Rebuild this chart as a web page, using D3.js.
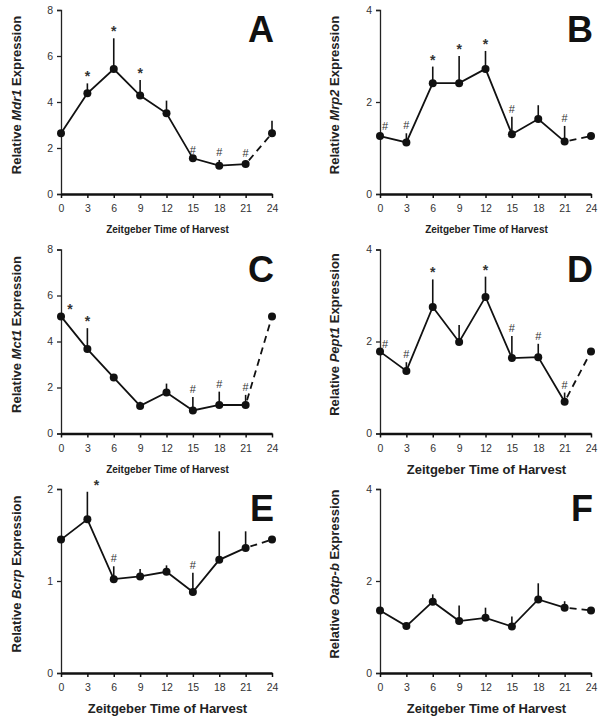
<!DOCTYPE html>
<html>
<head>
<meta charset="utf-8">
<script src="https://cdn.jsdelivr.net/npm/d3@7"></script>
<style>
  body { margin: 0; background: #fff; }
  text { font-family: "Liberation Sans", Arial, sans-serif; }
</style>
</head>
<body>
<svg id="chart" width="604" height="725"></svg>
<script>
// Zeitgeber times (hours)
const times = [0, 3, 6, 9, 12, 15, 18, 21, 24];

// Mean expression per panel
const mdr1   = [2.64, 4.38, 5.43, 4.28, 3.51, 1.55, 1.23, 1.30, 2.64];
const mrp2   = [1.26, 1.12, 2.41, 2.41, 2.72, 1.30, 1.63, 1.14, 1.26];
const mct1   = [5.09, 3.67, 2.43, 1.20, 1.78, 1.00, 1.24, 1.24, 5.09];
const pept1  = [1.78, 1.36, 2.75, 1.99, 2.97, 1.64, 1.66, 0.69, 1.78];
const bcrp   = [1.45, 1.67, 1.02, 1.05, 1.10, 0.88, 1.23, 1.36, 1.45];
const oatpb  = [1.36, 1.02, 1.55, 1.13, 1.20, 1.01, 1.60, 1.42, 1.36];

// Upper error (SEM) per point
const mdr1Err  = [0, 0.43, 1.34, 0.68, 0.55, 0, 0.25, 0.15, 0.55];
const mrp2Err  = [0.05, 0.20, 0.36, 0.59, 0.39, 0.38, 0.30, 0.34, 0];
const mct1Err  = [0, 0.91, 0.15, 0.18, 0.39, 0.59, 0.58, 0.44, 0];
const pept1Err = [0, 0.19, 0.60, 0.37, 0.44, 0.48, 0.29, 0.20, 0];
const bcrpErr  = [0, 0.30, 0.14, 0.08, 0.07, 0.21, 0.31, 0.18, 0];
const oatpbErr = [0, 0, 0.16, 0.34, 0.22, 0.22, 0.35, 0.14, 0];

// Significance markers
const mdr1Sig  = ["", "*", "*", "*", "", "#", "#", "#", ""];
const mrp2Sig  = ["#", "#", "*", "*", "*", "#", "", "#", ""];
const mct1Sig  = ["*", "*", "", "", "", "#", "#", "#", ""];
const pept1Sig = ["#", "#", "*", "", "*", "#", "#", "#", ""];
const bcrpSig  = ["", "*", "#", "", "", "#", "", "", ""];
const oatpbSig = ["", "", "", "", "", "", "", "", ""];

const yMaxes = [8, 4, 8, 4, 2, 4];
const yTickSets = [[0, 2, 4, 6, 8], [0, 2, 4], [0, 2, 4, 6, 8], [0, 2, 4], [0, 1, 2], [0, 2, 4]];
const genes = ["Mdr1", "Mrp2", "Mct1", "Pept1", "Bcrp", "Oatp-b"];
const letters = ["A", "B", "C", "D", "E", "F"];
const values = [mdr1, mrp2, mct1, pept1, bcrp, oatpb];
const errors = [mdr1Err, mrp2Err, mct1Err, pept1Err, bcrpErr, oatpbErr];
const sigs = [mdr1Sig, mrp2Sig, mct1Sig, pept1Sig, bcrpSig, oatpbSig];

const svg = d3.select("#chart");

letters.forEach((letter, i) => {
  const col = i % 2, row = Math.floor(i / 2);
  const ox = col * 319, oy = row * 239.5;
  const left = 61, right = 272, top = 10, bottom = 194;
  const bigTitle = i >= 3;

  const g = svg.append("g").attr("transform", `translate(${ox},${oy})`);

  const x = d3.scaleLinear().domain([0, 24]).range([left, right]);
  const y = d3.scaleLinear().domain([0, yMaxes[i]]).range([bottom, top]);

  // y axis
  const yAxis = g.append("g")
    .attr("transform", `translate(${left},0)`)
    .call(d3.axisLeft(y).tickValues(yTickSets[i]).tickFormat(d3.format("d")).tickSize(4).tickPadding(4));
  yAxis.select(".domain").attr("stroke", "#222").attr("stroke-width", 1.3);
  yAxis.selectAll(".tick line").attr("stroke", "#222").attr("stroke-width", 1.3);
  yAxis.selectAll("text").attr("font-size", 10.5).attr("fill", "#333");

  // x axis
  const xAxis = g.append("g")
    .attr("transform", `translate(0,${bottom})`)
    .call(d3.axisBottom(x).tickValues(times).tickSize(4).tickPadding(7).tickSizeOuter(0));
  xAxis.select(".domain").attr("stroke", "#111").attr("stroke-width", 2.4);
  xAxis.selectAll(".tick line").attr("stroke", "#111").attr("stroke-width", 1.5);
  xAxis.selectAll("text").attr("font-size", 10.5).attr("fill", "#333");

  // axis titles
  g.append("text")
    .attr("x", (left + right) / 2 + 1)
    .attr("y", bigTitle ? 234 : 233)
    .attr("text-anchor", "middle")
    .attr("font-size", bigTitle ? 13 : 10)
    .attr("font-weight", "bold")
    .attr("fill", "#222")
    .text("Zeitgeber Time of Harvest");

  const yt = g.append("text")
    .attr("transform", `translate(${col ? 20 : 21},${(top + bottom) / 2 - 7}) rotate(-90)`)
    .attr("text-anchor", "middle")
    .attr("font-size", 13)
    .attr("font-weight", "bold")
    .attr("fill", "#222");
  yt.append("tspan").text("Relative ");
  yt.append("tspan").attr("font-style", "italic").text(genes[i]);
  yt.append("tspan").text(" Expression");

  // panel letter
  g.append("text")
    .attr("x", right + 2)
    .attr("y", 42)
    .attr("text-anchor", "end")
    .attr("font-family", "'Open Sans', sans-serif")
    .attr("font-size", 36)
    .attr("font-weight", "bold")
    .attr("fill", "#111")
    .text(letter);

  const pts = times.map((t, k) => ({ t, v: values[i][k], e: errors[i][k], s: sigs[i][k], k }));

  // error bars (upper only)
  g.selectAll(".err")
    .data(pts.filter(d => d.e > 0))
    .join("line")
    .attr("x1", d => x(d.t)).attr("x2", d => x(d.t))
    .attr("y1", d => y(d.v)).attr("y2", d => y(d.v + d.e))
    .attr("stroke", "#111").attr("stroke-width", 1.6);

  // solid line 0..21, dashed 21..24
  const line = d3.line().x(d => x(d.t)).y(d => y(d.v));
  g.append("path").datum(pts.slice(0, 8))
    .attr("d", line).attr("fill", "none")
    .attr("stroke", "#111").attr("stroke-width", 1.8);
  g.append("path").datum(pts.slice(7, 9))
    .attr("d", line).attr("fill", "none")
    .attr("stroke", "#111").attr("stroke-width", 1.8)
    .attr("stroke-dasharray", "7,5").attr("stroke-dashoffset", -5);

  // points
  g.selectAll(".pt")
    .data(pts)
    .join("circle")
    .attr("cx", d => x(d.t)).attr("cy", d => y(d.v))
    .attr("r", 4).attr("fill", "#111");

  // significance markers
  const shifted = d => d.k === 0 || (i === 4 && d.k === 1);
  g.selectAll(".sig")
    .data(pts.filter(d => d.s))
    .join("text")
    .attr("x", d => x(d.t) + (shifted(d) ? (d.s === "*" ? 9 : 5) : 0))
    .attr("y", d => y(d.v + d.e) - (d.s === "*" ? 2 : 4))
    .attr("text-anchor", "middle")
    .attr("font-size", d => d.s === "*" ? 14 : 11)
    .attr("font-weight", d => d.s === "*" ? "bold" : "normal")
    .attr("fill", "#333")
    .text(d => d.s);
});
</script>
</body>
</html>
